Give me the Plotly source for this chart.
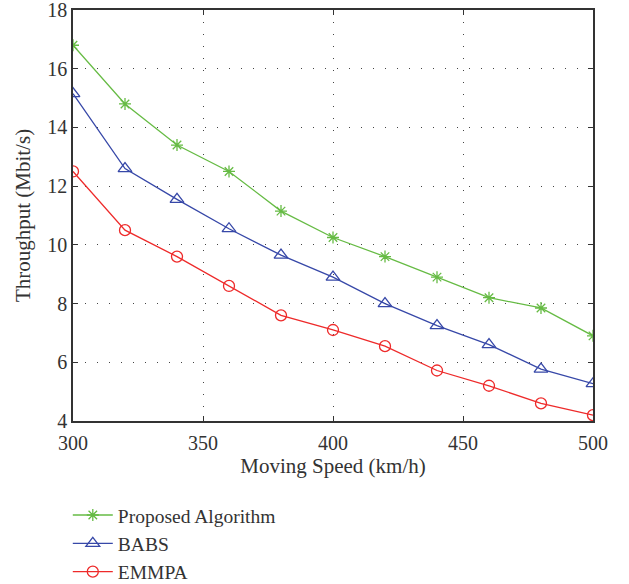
import plotly.graph_objects as go

speed = [300, 320, 340, 360, 380, 400, 420, 440, 460, 480, 500]
proposed = [16.8, 14.8, 13.4, 12.5, 11.15, 10.25, 9.6, 8.9, 8.2, 7.85, 6.9]
babs = [15.15, 12.6, 11.55, 10.55, 9.65, 8.9, 8.0, 7.25, 6.6, 5.77, 5.27]
emmpa = [12.5, 10.5, 9.6, 8.6, 7.6, 7.1, 6.55, 5.72, 5.2, 4.6, 4.2]
names = ["Proposed Algorithm", "BABS", "EMMPA"]

FONT = "Liberation Serif"
TXT = "#333333"
fig = go.Figure()
fig.add_trace(go.Scatter(x=speed, y=proposed, name=names[0], mode="lines+markers",
                         line=dict(color="#66bb44", width=1.3),
                         marker=dict(symbol="asterisk-open", size=10, color="#66bb44",
                                     line=dict(color="#66bb44", width=1.3))))
fig.add_trace(go.Scatter(x=speed, y=babs, name=names[1], mode="lines+markers",
                         line=dict(color="#3748a8", width=1.3),
                         marker=dict(symbol="triangle-up-open", size=12, color="#3748a8",
                                     line=dict(color="#3748a8", width=1.3))))
fig.add_trace(go.Scatter(x=speed, y=emmpa, name=names[2], mode="lines+markers",
                         line=dict(color="#ee2a2a", width=1.3),
                         marker=dict(symbol="circle-open", size=11, color="#ee2a2a",
                                     line=dict(color="#ee2a2a", width=1.3))))

axis_common = dict(showline=True, linecolor=TXT, linewidth=1.5, mirror="ticks",
                   ticks="inside", ticklen=5, tickcolor=TXT,
                   showgrid=True, gridcolor="#444444", griddash="1px,11px", gridwidth=1.2,
                   zeroline=False, automargin=False, ticklabeloverflow="allow",
                   tickfont=dict(family=FONT, size=20, color=TXT))
fig.update_xaxes(range=[300, 500], dtick=50, tick0=300, ticklabelstandoff=3,
                 title=dict(text="Moving Speed (km/h)", font=dict(family=FONT, size=21, color=TXT),
                            standoff=3), **axis_common)
fig.update_yaxes(range=[4, 18], dtick=2, tick0=4,
                 title=dict(text="Throughput (Mbit/s)", font=dict(family=FONT, size=21, color=TXT),
                            standoff=11), **axis_common)

fig.update_layout(width=629, height=620, plot_bgcolor="white", paper_bgcolor="white",
                  margin=dict(l=73, r=36, t=10, b=199),
                  font=dict(family=FONT, size=21, color=TXT),
                  legend=dict(x=-0.01, y=-0.182, xanchor="left", yanchor="top",
                              itemwidth=40,
                              font=dict(family=FONT, size=19.5, color=TXT),
                              bgcolor="rgba(0,0,0,0)", tracegroupgap=0),
                  showlegend=True)
fig.write_html("out.html", config={"displayModeBar": False},
               post_script="document.body.style.margin='0';document.body.style.overflow='hidden';"
                           "document.documentElement.style.overflow='hidden';")
